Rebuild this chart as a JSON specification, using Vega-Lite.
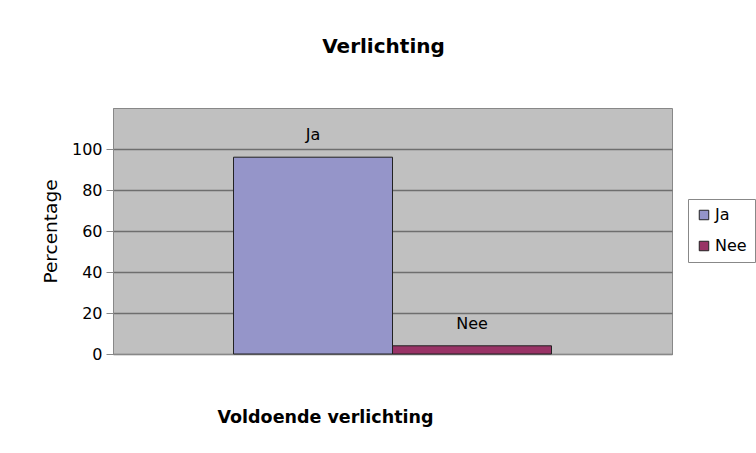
{
  "$schema": "https://vega.github.io/schema/vega-lite/v6.json",
  "width": 559,
  "height": 246,
  "autosize": "none",
  "padding": {"left": 113, "top": 108, "right": 84, "bottom": 99},
  "background": "white",
  "title": {"text": "Verlichting", "fontSize": 20, "font": "DejaVu Sans", "fontWeight": "bold", "anchor": "middle", "offset": 51, "dx": -9, "color": "#000"},
  "data": {"values": [{"Antwoord": "Ja", "Percentage": 96}, {"Antwoord": "Nee", "Percentage": 4}]},
  "encoding": {
    "x": {"field": "Antwoord", "type": "nominal",
      "scale": {"domain": ["Ja", "Nee"], "paddingInner": 0, "paddingOuter": 0.758},
      "axis": {"labels": false, "ticks": false, "domain": true, "domainColor": "#888", "title": "Voldoende verlichting",
        "titleFont": "DejaVu Sans", "titleFontSize": 17.5, "titleFontWeight": "bold", "titleColor": "#000",
        "titleX": 212, "titleY": 63, "titleAlign": "center", "titleBaseline": "middle"}},
    "y": {"field": "Percentage", "type": "quantitative",
      "scale": {"domain": [0, 120], "nice": false},
      "axis": {"values": [0, 20, 40, 60, 80, 100], "grid": true, "gridColor": "#6e6e6e", "gridWidth": 1.5,
        "domainColor": "#888", "tickColor": "#888", "tickSize": 7, "labelFont": "DejaVu Sans", "labelFontSize": 16,
        "labelColor": "#000", "labelPadding": 4, "title": "Percentage", "titleFont": "DejaVu Sans", "titleFontSize": 18.5,
        "titleFontWeight": "normal", "titleColor": "#000", "titlePadding": 11}}
  },
  "layer": [
    {"mark": {"type": "bar", "stroke": "#222", "strokeWidth": 1},
     "encoding": {"color": {"field": "Antwoord", "type": "nominal",
       "scale": {"domain": ["Ja", "Nee"], "range": ["#9595c9", "#993366"]},
       "legend": {"orient": "none", "legendX": 575, "legendY": 91, "title": null, "strokeColor": "#888", "fillColor": "white",
         "padding": 8, "labelFont": "DejaVu Sans", "labelFontSize": 16, "labelColor": "#000", "symbolType": "square",
         "symbolSize": 90, "symbolStrokeColor": "#222", "symbolStrokeWidth": 1, "symbolOpacity": 1, "rowPadding": 15, "labelOffset": 3}}}},
    {"mark": {"type": "text", "dy": -22, "fontSize": 16, "font": "DejaVu Sans", "color": "#000"},
     "encoding": {"text": {"field": "Antwoord"}}}
  ],
  "config": {"view": {"fill": "#c0c0c0", "stroke": "#888"}}
}
